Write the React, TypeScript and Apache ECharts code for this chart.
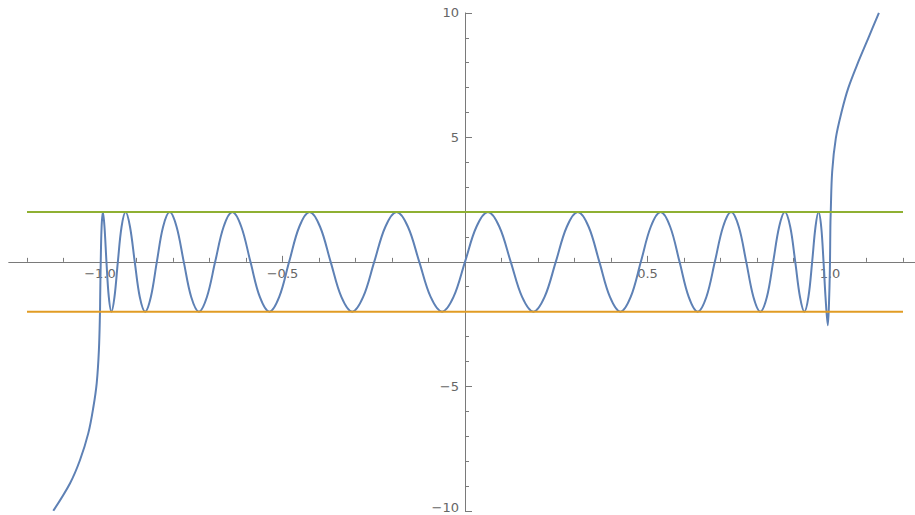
import { useEffect, useRef } from "react";
import * as echarts from "echarts";

// Branch of the curve left of x = -1, bottom to top
const leftBranchX = [-1.128, -1.082, -1.055, -1.032, -1.018, -1.009, -1.003];
const leftBranchY = [-10, -8.89, -7.97, -6.88, -5.82, -4.87, -3.54];

// Oscillating part between x = -1 and x = 1
const waveX = [
  -1.0, -0.9995, -0.998, -0.9956, -0.9921, -0.9877, -0.9823, -0.9759, -0.9686, -0.9603,
  -0.9511, -0.9409, -0.9298, -0.9178, -0.9048, -0.891, -0.8763, -0.8607, -0.8443, -0.8271,
  -0.809, -0.7902, -0.7705, -0.7501, -0.729, -0.7071, -0.6845, -0.6613, -0.6374, -0.6129,
  -0.5878, -0.5621, -0.5358, -0.509, -0.4818, -0.454, -0.4258, -0.3971, -0.3681, -0.3387,
  -0.309, -0.279, -0.2487, -0.2181, -0.1874, -0.1564, -0.1253, -0.0941, -0.0628, -0.0314,
  0,
  0.0314, 0.0628, 0.0941, 0.1253, 0.1564, 0.1874, 0.2181, 0.2487, 0.279, 0.309,
  0.3387, 0.3681, 0.3971, 0.4258, 0.454, 0.4818, 0.509, 0.5358, 0.5621, 0.5878,
  0.6129, 0.6374, 0.6613, 0.6845, 0.7071, 0.729, 0.7501, 0.7705, 0.7902, 0.809,
  0.8271, 0.8443, 0.8607, 0.8763, 0.891, 0.9048, 0.9178, 0.9298, 0.9409, 0.9511,
  0.9603, 0.9686, 0.9759, 0.9823, 0.9877, 0.994, 0.998, 1.0, 1.001, 1.002,
];
const waveY = [
  -2, -1.41, 0, 1.41, 2, 1.41, 0, -1.41,
  -2, -1.41, 0, 1.41, 2, 1.41, 0, -1.41,
  -2, -1.41, 0, 1.41, 2, 1.41, 0, -1.41,
  -2, -1.41, 0, 1.41, 2, 1.41, 0, -1.41,
  -2, -1.41, 0, 1.41, 2, 1.41, 0, -1.41,
  -2, -1.41, 0, 1.41, 2, 1.41, 0, -1.41,
  -2, -1.41, 0, 1.41, 2, 1.41, 0, -1.41,
  -2, -1.41, 0, 1.41, 2, 1.41, 0, -1.41,
  -2, -1.41, 0, 1.41, 2, 1.41, 0, -1.41,
  -2, -1.41, 0, 1.41, 2, 1.41, 0, -1.41,
  -2, -1.41, 0, 1.41, 2, 1.41, 0, -1.41,
  -2, -1.41, 0, 1.41, 2, 1.41, 0, -1.41,
  -2.55, -1.3, 0, 1.41, 2,
];

// Branch of the curve right of x = 1, bottom to top
const rightBranchX = [1.006, 1.016, 1.032, 1.05, 1.078, 1.105, 1.134];
const rightBranchY = [3.63, 4.97, 6.04, 6.98, 8.05, 8.99, 10.0];

// Horizontal reference levels
const levelX = [-1.2, 1.2];
const upperLevel = [2, 2];
const lowerLevel = [-2, -2];

// Tick positions
const xMajorTicks = [-1, -0.5, 0.5, 1];
const xMinorTicks = [
  -1.2, -1.1, -0.9, -0.8, -0.7, -0.6, -0.4, -0.3, -0.2, -0.1,
  0.1, 0.2, 0.3, 0.4, 0.6, 0.7, 0.8, 0.9, 1.1, 1.2,
];
const yMajorTicks = [-10, -5, 5, 10];
const yMinorTicks = [-9, -8, -7, -6, -4, -3, -2, -1, 1, 2, 3, 4, 6, 7, 8, 9];

const X_MIN = -1.25;
const X_MAX = 1.25;
const Y_MIN = -10;
const Y_MAX = 10;

const AXIS_COLOR = "#7a7a7a";
const LABEL_COLOR = "#666666";
const FONT = "DejaVu Sans";

// plot frame in pixels
const PLOT_LEFT = 8.75;
const PLOT_TOP = 12.9;
const PLOT_W = 912.5;
const PLOT_H = 497.9;
const ORIGIN_X = PLOT_LEFT + (PLOT_W * (0 - X_MIN)) / (X_MAX - X_MIN);
const ORIGIN_Y = PLOT_TOP + (PLOT_H * (Y_MAX - 0)) / (Y_MAX - Y_MIN);

const zip = (xs: number[], ys: number[]) => xs.map((x, i) => [x, ys[i]]);

const fmtX = (v: number) => (v < 0 ? "\u2212" : "") + Math.abs(v).toFixed(1);
const fmtY = (v: number) => {
  const s = (v < 0 ? "\u2212" : "") + String(Math.abs(v));
  // the lowest label sits at the bottom edge; lift it a little
  return v === Y_MIN ? `{edge|${s}}` : s;
};

export default function App() {
  const ref = useRef<HTMLDivElement>(null);

  useEffect(() => {
    if (!ref.current) return;
    const chart = echarts.init(ref.current, null, { renderer: "svg" });

    const curve = [
      ...zip(leftBranchX, leftBranchY),
      ...zip(waveX, waveY),
      ...zip(rightBranchX, rightBranchY),
    ];

    const labelStyle = {
      color: LABEL_COLOR,
      fontSize: 13,
      fontFamily: FONT,
    };

    const hidden = { show: false };
    const tickLine = { color: AXIS_COLOR, width: 1 };

    chart.setOption({
      animation: false,
      backgroundColor: "#ffffff",
      grid: [
        // main plot
        { left: PLOT_LEFT, top: PLOT_TOP, width: PLOT_W, height: PLOT_H, outerBoundsMode: "none" },
        // upper half: its bottom edge is the x axis, carries the x labels
        {
          left: PLOT_LEFT,
          top: PLOT_TOP,
          width: PLOT_W,
          height: ORIGIN_Y - PLOT_TOP,
          outerBoundsMode: "none",
        },
        // right half: its left edge is the y axis, carries the y labels
        {
          left: ORIGIN_X,
          top: PLOT_TOP,
          width: PLOT_LEFT + PLOT_W - ORIGIN_X,
          height: PLOT_H,
          outerBoundsMode: "none",
        },
      ],
      xAxis: [
        {
          gridIndex: 0,
          type: "value",
          min: X_MIN,
          max: X_MAX,
          position: "bottom",
          axisLine: { show: true, onZero: true, lineStyle: { color: AXIS_COLOR, width: 1 } },
          axisTick: { show: true, inside: true, length: 6, customValues: xMajorTicks, lineStyle: tickLine },
          axisLabel: hidden,
          splitLine: hidden,
        },
        {
          gridIndex: 0,
          type: "value",
          min: X_MIN,
          max: X_MAX,
          position: "top",
          axisLine: { show: true, onZero: true, lineStyle: { color: AXIS_COLOR, opacity: 0 } },
          axisTick: { show: true, inside: false, length: 4, customValues: xMinorTicks, lineStyle: tickLine },
          axisLabel: hidden,
          splitLine: hidden,
        },
        {
          gridIndex: 1,
          type: "value",
          min: X_MIN,
          max: X_MAX,
          position: "bottom",
          axisLine: hidden,
          axisTick: hidden,
          axisLabel: {
            show: true,
            customValues: xMajorTicks,
            formatter: fmtX,
            margin: 5,
            ...labelStyle,
          },
          splitLine: hidden,
        },
        {
          gridIndex: 2,
          type: "value",
          min: 0,
          max: 1,
          show: false,
        },
      ],
      yAxis: [
        {
          gridIndex: 0,
          type: "value",
          min: Y_MIN,
          max: Y_MAX,
          position: "left",
          axisLine: { show: true, onZero: true, lineStyle: { color: AXIS_COLOR, width: 1 } },
          axisTick: { show: true, inside: true, length: 7, customValues: yMajorTicks, lineStyle: tickLine },
          axisLabel: hidden,
          splitLine: hidden,
        },
        {
          gridIndex: 0,
          type: "value",
          min: Y_MIN,
          max: Y_MAX,
          position: "right",
          axisLine: { show: true, onZero: true, lineStyle: { color: AXIS_COLOR, opacity: 0 } },
          axisTick: { show: true, inside: false, length: 4, customValues: yMinorTicks, lineStyle: tickLine },
          axisLabel: hidden,
          splitLine: hidden,
        },
        {
          gridIndex: 1,
          type: "value",
          min: 0,
          max: 1,
          show: false,
        },
        {
          gridIndex: 2,
          type: "value",
          min: Y_MIN,
          max: Y_MAX,
          position: "left",
          axisLine: hidden,
          axisTick: hidden,
          axisLabel: {
            show: true,
            customValues: yMajorTicks,
            formatter: fmtY,
            margin: 6,
            ...labelStyle,
            rich: {
              edge: { ...labelStyle, padding: [0, 0, 7, 0] },
            },
          },
          splitLine: hidden,
        },
      ],
      series: [
        {
          name: "f",
          type: "line",
          xAxisIndex: 0,
          yAxisIndex: 0,
          data: curve,
          showSymbol: false,
          smooth: 0.35,
          clip: true,
          lineStyle: { color: "#5E81B5", width: 2 },
          itemStyle: { color: "#5E81B5" },
        },
        {
          name: "lower",
          type: "line",
          xAxisIndex: 0,
          yAxisIndex: 0,
          data: zip(levelX, lowerLevel),
          showSymbol: false,
          lineStyle: { color: "#E19C24", width: 2 },
          itemStyle: { color: "#E19C24" },
        },
        {
          name: "upper",
          type: "line",
          xAxisIndex: 0,
          yAxisIndex: 0,
          data: zip(levelX, upperLevel),
          showSymbol: false,
          lineStyle: { color: "#8FB032", width: 2 },
          itemStyle: { color: "#8FB032" },
        },
      ],
    });

    return () => chart.dispose();
  }, []);

  return (
    <div
      ref={ref}
      style={{
        position: "absolute",
        left: 0,
        top: 0,
        width: 915,
        height: 515,
        background: "#ffffff",
      }}
    />
  );
}
